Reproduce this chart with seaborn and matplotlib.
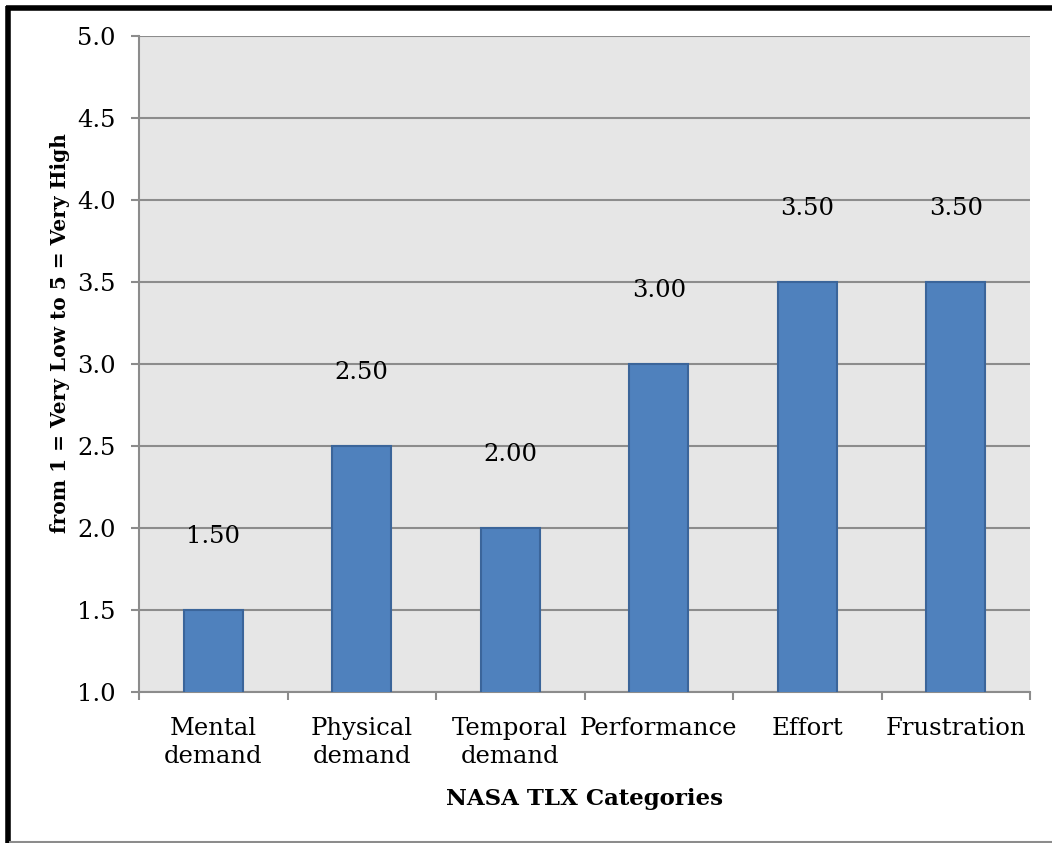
import numpy as np
import matplotlib
matplotlib.use("Agg")
import matplotlib.pyplot as pyplot
from matplotlib.lines import Line2D
import pandas as pd
import seaborn as sns

categories = ["Mental\ndemand", "Physical\ndemand", "Temporal\ndemand",
              "Performance", "Effort", "Frustration"]
scores = [1.5, 2.5, 2.0, 3.0, 3.5, 3.5]
y_ticks = [1.0, 1.5, 2.0, 2.5, 3.0, 3.5, 4.0, 4.5, 5.0]

sns.set_theme(style="white")
pyplot.rcParams["font.family"] = ["DejaVu Serif"]
pyplot.rcParams["text.color"] = "black"
pyplot.rcParams["xtick.color"] = "black"
pyplot.rcParams["ytick.color"] = "black"

W, H = 1052, 843
fig = pyplot.figure(figsize=(W / 100, H / 100), dpi=100)
ax = fig.add_axes([139 / W, 1 - 692 / H, (1030 - 139) / W, (692 - 36) / H])

df = pd.DataFrame({"cat": categories, "score": scores})
sns.barplot(data=df, x="cat", y="score", color="#4F81BD", width=0.4,
            edgecolor="#3B659A", linewidth=1.5, saturation=1, ax=ax, zorder=3)

ax.set_facecolor("#E6E6E6")
ax.set_ylim(1.0, 5.0)
ax.set_xlim(-0.5, len(categories) - 0.5)
ax.set_yticks(y_ticks)
ax.set_yticklabels([f"{t:.1f}" for t in y_ticks])
ax.yaxis.grid(True, color="#8C8C8C", linewidth=1.5, zorder=0)
ax.set_axisbelow(True)

# category ticks sit between bars
ax.set_xticks(np.arange(len(categories)))
ax.set_xticklabels(categories, fontsize=17.5, linespacing=1.3, color="black")
ax.tick_params(axis="x", which="major", bottom=True, length=0, pad=18)
ax.set_xticks(np.arange(-0.5, len(categories)), minor=True)
ax.tick_params(axis="x", which="minor", bottom=True, length=6, width=1.5,
               color="#8C8C8C", direction="out")
ax.tick_params(axis="y", left=True, length=6, width=1.5, color="#8C8C8C",
               direction="out", labelsize=17.5, pad=11, labelcolor="black")

for s in ["top", "right"]:
    ax.spines[s].set_visible(False)
for s in ["left", "bottom"]:
    ax.spines[s].set_color("#8C8C8C")
    ax.spines[s].set_linewidth(1.5)

for i, v in enumerate(scores):
    ax.text(i, v + 0.45, f"{v:.2f}", ha="center", va="center", fontsize=17.5,
            color="black")

ax.set_xlabel("NASA TLX Categories", fontsize=16.5, fontweight="bold",
              labelpad=14, color="black")
ax.set_ylabel("")
fig.text(60 / W, 1 - 333 / H, "from 1 = Very Low to 5 = Very High", rotation=90,
         ha="center", va="center", fontsize=14.5, fontweight="bold", color="black")

# frame around the chart
fig.add_artist(Line2D([7.5 / W, 7.5 / W], [0, 1 - 5.5 / H], color="black",
                      linewidth=4, solid_capstyle="butt", transform=fig.transFigure))
fig.add_artist(Line2D([5.5 / W, 1], [1 - 7.5 / H, 1 - 7.5 / H], color="black",
                      linewidth=4, solid_capstyle="butt", transform=fig.transFigure))
fig.add_artist(Line2D([9 / W, 1], [1.5 / H, 1.5 / H], color="#8C8C8C",
                      linewidth=1.5, solid_capstyle="butt", transform=fig.transFigure))

fig.savefig("out.png", dpi=100)
